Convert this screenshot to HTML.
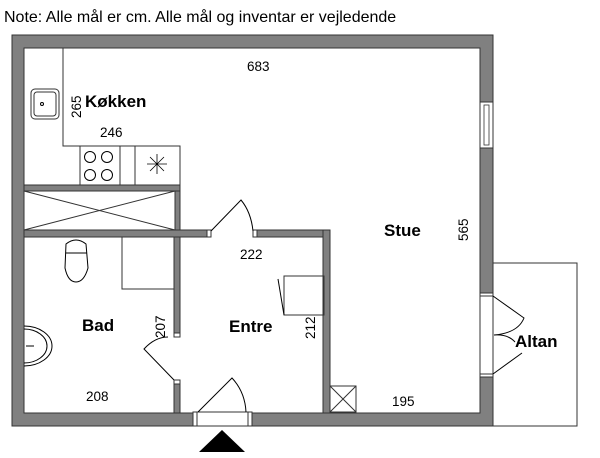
<!DOCTYPE html>
<html><head><style>
body{margin:0;background:#fff;width:600px;height:458px;overflow:hidden}
svg{display:block}
text{font-family:"Liberation Sans",Arial,sans-serif;fill:#000}
.b{font-weight:bold;font-size:17px}
.n{font-size:13.5px}
</style></head><body>
<svg width="600" height="458" viewBox="0 0 600 458">
<text x="4" y="22" font-size="16">Note: Alle mål er cm. Alle mål og inventar er vejledende</text>
<path fill-rule="evenodd" fill="#808080" stroke="#333" stroke-width="1" d="M12,35 H493 V426 H12 Z M24,48 V413 H480 V48 Z"/>
<rect x="493" y="263" width="84" height="163" fill="none" stroke="#333"/>
<rect x="480" y="102" width="13" height="46" fill="#fff" stroke="#333"/>
<rect x="484" y="105" width="5" height="40" fill="none" stroke="#333" stroke-width="0.8"/>
<rect x="480" y="293" width="13" height="84" fill="#fff" stroke="#333"/>
<line x1="480" y1="296" x2="493" y2="296" stroke="#333"/>
<line x1="480" y1="374" x2="493" y2="374" stroke="#333"/>
<path d="M493,296 L524,318 Q518,333 494,335 Q508,334 515,342 M493,374 L522,353" fill="none" stroke="#000"/>
<rect x="193" y="412" width="59" height="14" fill="#fff" stroke="#333"/>
<line x1="197" y1="412" x2="197" y2="426" stroke="#333"/>
<line x1="248" y1="412" x2="248" y2="426" stroke="#333"/>
<path d="M198,412 L232,378 Q245,392 246,412" fill="none" stroke="#000"/>
<polygon points="199,452 222,430 245,452" fill="#000"/>
<path d="M63,48 V146 H180 V185" fill="none" stroke="#333"/>
<rect x="80" y="146" width="40" height="39" fill="none" stroke="#333"/>
<line x1="135" y1="146" x2="135" y2="185" stroke="#333"/>
<g fill="none" stroke="#000"><circle cx="90" cy="157" r="5.5"/><circle cx="107" cy="157" r="5.5"/><circle cx="90" cy="175" r="5.5"/><circle cx="107" cy="175" r="5.5"/></g>
<path d="M157,154 V174 M147,164 H167 M150,157 L164,171 M164,157 L150,171" stroke="#000" stroke-width="0.8"/>
<rect x="31" y="89" width="28" height="30" rx="4" fill="none" stroke="#333"/>
<rect x="34" y="92" width="22" height="24" rx="3" fill="none" stroke="#333"/>
<circle cx="42" cy="104" r="1.5" fill="none" stroke="#000"/>
<rect x="24" y="185" width="156" height="6" fill="#808080" stroke="#333"/>
<rect x="24" y="191" width="151" height="39" fill="none" stroke="#333"/>
<path d="M24,191 L175,230 M175,191 L24,230" stroke="#333"/>
<rect x="175" y="191" width="5" height="46" fill="#808080" stroke="#333"/>
<rect x="24" y="230" width="184" height="7" fill="#808080" stroke="#333"/>
<rect x="207" y="230" width="4" height="7" fill="#fff" stroke="#333"/>
<rect x="253" y="230" width="4" height="7" fill="#fff" stroke="#333"/>
<rect x="257" y="230" width="73" height="7" fill="#808080" stroke="#333"/>
<path d="M211,231 L241,200 Q251,212 253,231" fill="none" stroke="#000"/>
<rect x="323" y="230" width="7" height="183" fill="#808080" stroke="#333"/>
<rect x="174" y="237" width="6" height="100" fill="#808080" stroke="#333"/>
<rect x="174" y="333" width="6" height="4" fill="#fff" stroke="#333"/>
<rect x="174" y="380" width="6" height="33" fill="#808080" stroke="#333"/>
<rect x="174" y="380" width="6" height="4" fill="#fff" stroke="#333"/>
<path d="M174,380 L144,349 Q155,337 168,337" fill="none" stroke="#000"/>
<rect x="122" y="237" width="52" height="52" fill="none" stroke="#333"/>
<path d="M66,244 Q76,236 86,244 L88,268 Q84,282 76,282 Q68,282 65,268 Z" fill="none" stroke="#000"/>
<line x1="66" y1="253" x2="87" y2="253" stroke="#000"/>
<path d="M24,326 A28,20 0 0 1 24,366" fill="none" stroke="#000"/>
<path d="M24,329 A23,17 0 0 1 24,363" fill="none" stroke="#000"/>
<line x1="26" y1="346" x2="34" y2="346" stroke="#000"/>
<rect x="284" y="276" width="40" height="39" fill="none" stroke="#333"/>
<line x1="278" y1="279" x2="284" y2="315" stroke="#000"/>
<rect x="330" y="386" width="26" height="26" fill="none" stroke="#333"/>
<path d="M330,386 L356,412 M356,386 L330,412" stroke="#333"/>
<text class="b" x="85" y="107" font-size="18">Køkken</text>
<text class="n" transform="translate(81,118) rotate(-90)">265</text>
<text class="n" x="100" y="137">246</text>
<text class="n" x="247" y="71">683</text>
<text class="b" x="384" y="236">Stue</text>
<text class="n" transform="translate(468,241) rotate(-90)">565</text>
<text class="n" x="240" y="259">222</text>
<text class="b" x="229" y="332">Entre</text>
<text class="n" transform="translate(315,339) rotate(-90)">212</text>
<text class="b" x="82" y="331">Bad</text>
<text class="n" transform="translate(165,338) rotate(-90)">207</text>
<text class="n" x="86" y="401">208</text>
<text class="n" x="392" y="406">195</text>
<text class="b" x="515" y="347">Altan</text>
</svg>
</body></html>
